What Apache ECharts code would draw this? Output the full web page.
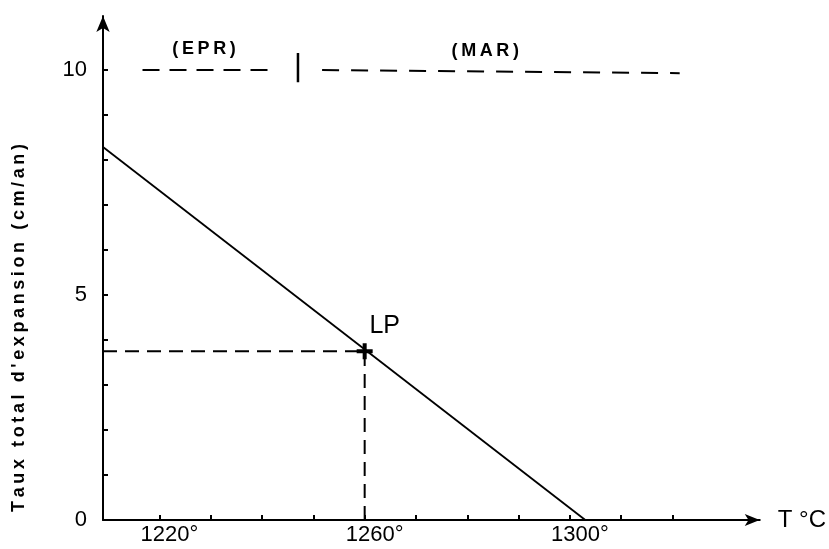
<!DOCTYPE html>
<html><head><meta charset="utf-8">
<script src="https://cdn.jsdelivr.net/npm/echarts@6/dist/echarts.min.js"></script>
<style>html,body{margin:0;padding:0;background:#fff}#c{width:829px;height:549px}</style>
</head><body><div id="c"></div>
<script>
// ---- data ----
const xTicks = [1220,1230,1240,1250,1260,1270,1280,1290,1300,1310,1320];
const xLabels = [1220,1260,1300];
const yTicks = [1,2,3,4,5,6,7,8,9,10];
const yLabels = [0,5,10];
const rateLine = [[1209, 8.29],[1303, 0]];
const lpPoint = [1260, 3.75];
const eprSegment = [[1216.7,10],[1242.7,10]];
const marSegment = [[1251.7,10],[1321.4,9.93]];
const boundaryMark = [[1247,10.38],[1247,9.73]];
const regionLabels = [['(EPR)',1228.7,10.47],['(MAR)',1283.5,10.42]];
const yTitle = "Taux total d'expansion (cm/an)";
const xTitle = 'T °C';

const spaced = s => s.split('').join('\u2009');
const ink = '#000';
const font = 'Liberation Sans, Arial, sans-serif';
const chart = echarts.init(document.getElementById('c'), null, {renderer:'canvas'});
chart.setOption({
  animation:false,
  backgroundColor:'#fff',
  grid:{left:103, right:66, top:16, bottom:29},
  xAxis:{
    type:'value', min:1209, max:1337,
    splitLine:{show:false},
    axisLine:{lineStyle:{color:ink,width:2}, symbol:['none','arrow'], symbolSize:[9,15]},
    axisTick:{inside:true, length:5, lineStyle:{color:ink,width:2}, customValues:xTicks},
    axisLabel:{customValues:xLabels, formatter:v=>v+'°', color:ink, fontFamily:font, fontSize:22, margin:4, padding:[0,0,0,20]},
    name:xTitle, nameLocation:'end', nameGap:18,
    nameTextStyle:{color:ink, fontFamily:font, fontSize:24, verticalAlign:'middle'}
  },
  yAxis:{
    type:'value', min:0, max:11.2,
    splitLine:{show:false},
    axisLine:{lineStyle:{color:ink,width:2}, symbol:['none','arrow'], symbolSize:[10,16]},
    axisTick:{inside:true, length:5, lineStyle:{color:ink,width:2}, customValues:yTicks},
    axisLabel:{customValues:yLabels, color:ink, fontFamily:font, fontSize:22, margin:16}
  },
  graphic:[{
    type:'text', x:19, y:328, rotation:Math.PI/2,
    style:{text:spaced(yTitle), font:'bold 18px '+font, fill:ink, align:'center', verticalAlign:'middle', textAlign:'center', textVerticalAlign:'middle'}
  }],
  series:[
    {type:'line', data:rateLine, symbol:'none', lineStyle:{color:ink,width:1.8}, silent:true},
    {type:'line', data:[[1209,lpPoint[1]],lpPoint], symbol:'none', lineStyle:{color:ink,width:2,type:[14,8]}},
    {type:'line', data:[[lpPoint[0],0],lpPoint], symbol:'none', lineStyle:{color:ink,width:2,type:[14,8]}},
    {type:'line', data:eprSegment, symbol:'none', lineStyle:{color:ink,width:2,type:[17,10]}},
    {type:'line', data:marSegment, symbol:'none', lineStyle:{color:ink,width:2,type:[17,12]}},
    {type:'line', data:boundaryMark, symbol:'none', lineStyle:{color:ink,width:2.5}},
    {type:'scatter', data:[lpPoint], symbol:'path://M-2,-8H2V8H-2Z M-8,-2H8V2H-8Z', symbolSize:16,
      itemStyle:{color:ink, opacity:1}, z:5,
      label:{show:true, formatter:'LP', position:'top', offset:[20,0], color:ink, fontFamily:font, fontSize:25}},
    {type:'scatter', data:regionLabels.map(r=>({value:[r[1],r[2]], name:r[0]})), symbolSize:0,
      itemStyle:{opacity:1},
      label:{show:true, position:'inside', formatter:p=>spaced(p.name), color:ink, fontFamily:font, fontSize:18, fontWeight:'bold'}}
  ]
});
</script></body></html>
